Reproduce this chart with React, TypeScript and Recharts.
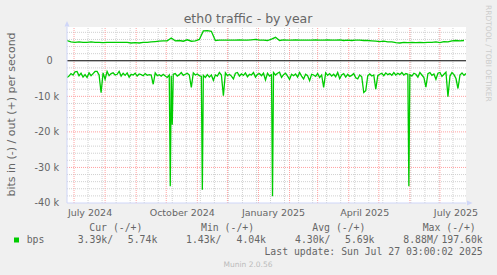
import React from 'react';
import { LineChart, Line, XAxis, YAxis, ReferenceLine, ReferenceArea } from 'recharts';

const W = 497;
const H = 275;

// day 0 = 2024-06-24, last day = 2025-07-27; all values in k bits per second
const IN_STEP = 2;
const OUT_STEP = 4;

const inValues = [
  -4.7, -4.3, -3.6, -4.0, -3.1, -3.0, -4.2, -3.5, -4.6, -3.9,
  -4.7, -3.4, -4.2, -3.6, -3.0, -3.0, -4.0, -9.0, -3.4, -5.2,
  -3.0, -4.2, -3.6, -3.4, -4.0, -3.8, -3.0, -4.3, -3.5, -4.1,
  -3.4, -4.6, -3.8, -4.0, -3.5, -4.3, -3.7, -3.9, -4.2, -3.6,
  -4.1, -3.9, -4.0, -6.6, -3.4, -4.2, -3.9, -4.3, -3.8, -4.3,
  -4.7, -4.0, -4.2, -3.8, -3.6, -4.3, -3.9, -3.3, -4.1, -3.8,
  -3.5, -4.0, -7.5, -3.4, -4.0, -3.7, -4.2, -4.4, -4.1, -4.7,
  -3.9, -4.6, -4.0, -5.5, -4.0, -4.3, -3.3, -4.0, -9.8, -3.4,
  -4.2, -3.8, -4.3, -5.1, -3.5, -3.3, -4.3, -3.7, -4.1, -3.4,
  -4.5, -3.8, -4.0, -3.3, -4.6, -3.8, -3.6, -4.2, -3.5, -5.4,
  -3.5, -4.3, -3.9, -3.3, -4.0, -3.5, -3.2, -4.7, -3.9, -3.5,
  -4.3, -5.2, -3.8, -4.2, -3.7, -4.6, -3.3, -4.3, -5.1, -3.8,
  -4.2, -5.6, -3.8, -4.0, -4.4, -3.6, -4.7, -4.0, -7.5, -3.4,
  -4.1, -3.6, -4.3, -3.8, -4.5, -3.3, -5.0, -4.0, -3.6, -4.6,
  -3.8, -4.4, -4.1, -3.6, -4.8, -5.1, -4.0, -4.5, -8.9, -8.4,
  -4.2, -3.7, -4.3, -4.0, -8.0, -4.2, -3.8, -3.5, -4.2, -3.4,
  -3.9, -3.6, -4.1, -3.3, -4.0, -3.5, -3.9, -3.3, -4.0, -3.6,
  -3.8, -3.9, -4.3, -3.5, -3.8, -4.6, -3.3, -4.0, -4.7, -7.4,
  -3.6, -3.3, -4.1, -3.7, -5.2, -3.5, -3.3, -4.4, -3.8, -3.2,
  -10.1, -4.3, -3.3, -3.9, -5.0, -7.8, -4.0, -3.4, -4.1, -3.6,
];

const spikeDays = [103, 105, 135, 205, 341];
const spikeValues = [-35.3, -18.0, -36.3, -38.1, -35.3];

const outValues = [
  5.7, 5.3, 5.2, 5.3, 5.2, 5.2, 5.3, 5.2, 5.2, 5.1,
  5.2, 5.2, 5.2, 5.2, 5.2, 5.2, 5.0, 5.1, 5.0, 5.2,
  5.2, 5.3, 5.4, 5.5, 5.6, 5.6, 6.4, 5.6, 5.7, 5.5,
  5.9, 5.5, 5.6, 6.0, 8.4, 8.5, 8.3, 5.7, 5.8, 5.8,
  5.8, 5.8, 5.8, 5.9, 5.8, 5.8, 5.9, 6.0, 5.8, 5.8,
  5.7, 6.1, 6.6, 5.7, 5.9, 5.8, 5.8, 5.9, 5.8, 5.8,
  5.8, 5.8, 5.9, 5.8, 5.8, 5.9, 5.8, 5.8, 5.9, 5.7,
  5.8, 5.7, 5.8, 5.8, 5.7, 5.7, 5.6, 5.5, 5.4, 5.5,
  5.3, 5.3, 5.1, 5.0, 5.2, 5.1, 5.2, 5.1, 5.2, 5.1,
  5.2, 5.2, 5.3, 5.1, 5.4, 5.3, 5.6, 5.7, 5.6, 5.7,
];

const xTickDays = [23, 115, 206, 297, 388];
const xTickLabels = ['July 2024', 'October 2024', 'January 2025', 'April 2025', 'July 2025'];
const monthStartDays = [7, 38, 69, 99, 130, 160, 191, 222, 250, 281, 311, 342, 372];
const minorXDays = [21, 35, 49, 63, 77, 91, 105, 119, 133, 147, 161, 175, 189, 203, 217, 231, 245, 259, 273, 287, 301, 315, 329, 343, 357, 371, 385];
const yTicks = [-40, -30, -20, -10, 0];
const majorY = [-30, -20, -10];
const minorY = [-38, -36, -34, -32, -28, -26, -24, -22, -18, -16, -14, -12, -8, -6, -4, -2, 2, 4, 6, 8];

const legendHeads = ['Cur (-/+)', 'Min (-/+)', 'Avg (-/+)', 'Max (-/+)'];
const legendIn = ['3.39k/', '1.43k/', '4.30k/', '8.88M/'];
const legendOut = ['5.74k', '4.04k', '5.69k', '197.60k'];

const headX = [89.3, 201, 312.3, 422.7];
const inX = [77.7, 186, 295, 403.3];
const outEndX = [157.3, 266, 374.5, 482.7];

const GREEN = '#00cc00';
const FONT = '#666666';
const AXIS = '#cfd6f8';
const GRID = '#d0d0d0';
const MGRID = '#ffa0a0';

const inData = inValues
  .map((v, i) => ({ day: i * IN_STEP, v }))
  .concat(spikeDays.map((d, i) => ({ day: d, v: spikeValues[i] })))
  .sort((a, b) => a.day - b.day);
const outData = outValues.map((v, i) => ({ day: i * OUT_STEP, v }));

const YTick = (props: any) => {
  const { x, y, payload } = props;
  const zero = payload.value === 0;
  return (
    <text x={zero ? x - 6.4 : x} y={y} dy={3.4} textAnchor="end" fontSize={9.7} fill={FONT} fontFamily="DejaVu Sans">
      {zero ? '0' : `${payload.value} k`}
    </text>
  );
};

const XTick = (props: any) => {
  const { x, y, payload } = props;
  const idx = xTickDays.indexOf(payload.value);
  return (
    <text x={x} y={y} dy={5} textAnchor="middle" fontSize={9.5} fill={FONT} fontFamily="DejaVu Sans">
      {xTickLabels[idx]}
    </text>
  );
};

export default function App() {
  const mono = 'DejaVu Sans Mono';
  return (
    <div style={{ position: 'absolute', left: 0, top: 0, width: W, height: H, background: '#f0f0f0', overflow: 'hidden' }}>
      <LineChart width={W} height={H} margin={{ top: 27, right: 31, bottom: 52, left: 7 }} style={{ position: 'absolute', left: 0, top: 0 }}>
        <XAxis
          type="number"
          dataKey="day"
          domain={[0, 398]}
          ticks={xTickDays}
          tick={<XTick />}
          tickLine={false}
          axisLine={{ stroke: AXIS }}
          height={20}
          allowDataOverflow
        />
        <YAxis
          type="number"
          domain={[-40, 9.5]}
          ticks={yTicks}
          tick={<YTick />}
          tickLine={false}
          axisLine={{ stroke: AXIS }}
          width={60}
          allowDataOverflow
        />
        <ReferenceArea x1={0} x2={398} y1={-40} y2={9.5} fill="#ffffff" fillOpacity={1} stroke="none" />
        {minorY.map((v) => (
          <ReferenceLine key={'hy' + v} y={v} stroke={GRID} strokeDasharray="1 1" />
        ))}
        {minorXDays.map((d) => (
          <ReferenceLine key={'hx' + d} x={d} stroke={GRID} strokeDasharray="1 1" />
        ))}
        {majorY.map((v) => (
          <ReferenceLine key={'my' + v} y={v} stroke={MGRID} strokeDasharray="1 1" />
        ))}
        {monthStartDays.map((d) => (
          <ReferenceLine key={'mx' + d} x={d} stroke={MGRID} strokeDasharray="1 1" />
        ))}
        <ReferenceLine y={0} stroke="#000000" />
        <Line data={outData} dataKey="v" type="linear" stroke={GREEN} strokeWidth={1.3} dot={false} isAnimationActive={false} />
        <Line data={inData} dataKey="v" type="linear" stroke={GREEN} strokeWidth={1.3} dot={false} isAnimationActive={false} />
      </LineChart>
      <svg width={W} height={H} style={{ position: 'absolute', left: 0, top: 0, pointerEvents: 'none' }}>
        <polygon points="64.5,26.5 69.5,26.5 67,21" fill={AXIS} />
        <polygon points="467,200.5 467,205.5 472.5,203" fill={AXIS} />
        <text x={248} y={23} textAnchor="middle" fontSize={12.5} fill={FONT} fontFamily="DejaVu Sans">
          eth0 traffic - by year
        </text>
        <text x={15} y={114.5} textAnchor="middle" fontSize={11} fill={FONT} fontFamily="DejaVu Sans" transform="rotate(-90, 15, 114.5)">
          bits in (-) / out (+) per second
        </text>
        <text x={485.5} y={5} textAnchor="start" fontSize={7.5} fill="#cccccc" fontFamily="DejaVu Sans" transform="rotate(90, 485.5, 5)">
          RRDTOOL / TOBI OETIKER
        </text>
        {legendHeads.map((t, i) => (
          <text key={t} x={headX[i]} y={231} fontSize={9.8} fill={FONT} fontFamily={mono} xmlSpace="preserve">
            {t}
          </text>
        ))}
        <rect x={14} y={237.5} width={5} height={5} fill={GREEN} />
        <text x={26.7} y={243.3} fontSize={9.8} fill={FONT} fontFamily={mono}>bps</text>
        {legendIn.map((t, i) => (
          <text key={'in' + i} x={inX[i]} y={243.3} fontSize={9.8} fill={FONT} fontFamily={mono}>
            {t}
          </text>
        ))}
        {legendOut.map((t, i) => (
          <text key={'out' + i} x={outEndX[i]} y={243.3} textAnchor="end" fontSize={9.8} fill={FONT} fontFamily={mono}>
            {t}
          </text>
        ))}
        <text x={482.7} y={255} textAnchor="end" fontSize={9.8} fill={FONT} fontFamily={mono}>
          Last update: Sun Jul 27 03:00:02 2025
        </text>
        <text x={248} y={266.5} textAnchor="middle" fontSize={7.5} fill="#bbbbbb" fontFamily="DejaVu Sans">
          Munin 2.0.56
        </text>
      </svg>
    </div>
  );
}
